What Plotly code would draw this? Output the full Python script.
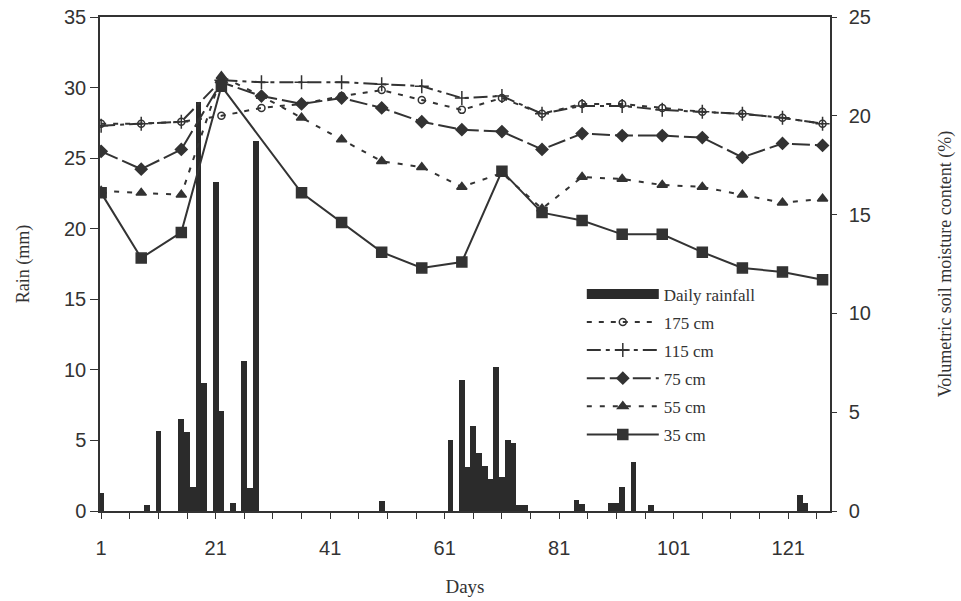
import plotly.graph_objects as go

# ---- data ----
rain_days = [1, 9, 11, 15, 16, 17, 18, 19, 21, 22, 24, 26, 27, 28, 50,
             62, 64, 65, 66, 67, 68, 69, 70, 71, 72, 73, 74, 75,
             84, 85, 90, 91, 92, 94, 97, 123, 124]
rain_mm = [1.3, 0.4, 5.7, 6.5, 5.6, 1.7, 29.0, 9.1, 23.3, 7.1, 0.6, 10.6, 1.6, 26.2, 0.7,
           5.0, 9.3, 3.1, 6.0, 4.1, 3.2, 2.3, 10.2, 2.4, 5.0, 4.8, 0.4, 0.4,
           0.8, 0.5, 0.6, 0.6, 1.7, 3.5, 0.4, 1.1, 0.6]

days = [1, 8, 15, 22, 29, 36, 43, 50, 57, 64, 71, 78, 85, 92, 99, 106, 113, 120, 127]
days_35 = [1, 8, 15, 22, 36, 43, 50, 57, 64, 71, 78, 85, 92, 99, 106, 113, 120, 127]

sm_175 = [19.6, 19.6, 19.7, 20.0, 20.4, 20.6, 21.0, 21.3, 20.8, 20.3, 20.9, 20.1, 20.6, 20.6, 20.4, 20.2, 20.1, 19.9, 19.6]
sm_115 = [19.5, 19.6, 19.7, 21.8, 21.7, 21.7, 21.7, 21.6, 21.5, 20.9, 21.0, 20.1, 20.5, 20.5, 20.3, 20.2, 20.1, 19.9, 19.6]
sm_75 = [18.2, 17.3, 18.3, 21.7, 21.0, 20.6, 20.9, 20.4, 19.7, 19.3, 19.2, 18.3, 19.1, 19.0, 19.0, 18.9, 17.9, 18.6, 18.5]
sm_55 = [16.2, 16.1, 16.0, 22.0, 21.0, 19.9, 18.8, 17.7, 17.4, 16.4, 17.1, 15.3, 16.9, 16.8, 16.5, 16.4, 16.0, 15.6, 15.8]
sm_35 = [16.1, 12.8, 14.1, 21.5, 16.1, 14.6, 13.1, 12.3, 12.6, 17.2, 15.1, 14.7, 14.0, 14.0, 13.1, 12.3, 12.1, 11.7]

INK = "#333333"
BAR = "#2b2b2b"
SERIF = "Liberation Serif"
SANS = "Liberation Sans"

fig = go.Figure()

fig.add_trace(go.Bar(
    x=rain_days, y=rain_mm, name="Daily rainfall", width=1,
    marker=dict(color=BAR, line=dict(width=0)),
    yaxis="y", showlegend=False,
))
# legend entry for rainfall drawn as a wide black block
fig.add_trace(go.Scatter(
    x=[None], y=[None], name="Daily rainfall", mode="lines", yaxis="y",
    line=dict(color=BAR, width=13), legendgroup="r",
))

series = [
    ("175 cm", days, sm_175, "5px,7px", "circle-open", 7),
    ("115 cm", days, sm_115, "14px,5px,4px,5px", "cross-thin-open", 10),
    ("75 cm", days, sm_75, "18px,5px", "diamond", 9),
    ("55 cm", days, sm_55, "5px,8px", "triangle-up", 9),
    ("35 cm", days_35, sm_35, "solid", "square", 10),
]
for name, xs, ys, dash, sym, size in series:
    fig.add_trace(go.Scatter(
        x=xs, y=ys, name=name, mode="lines+markers", yaxis="y2",
        line=dict(color=INK, width=2, dash=dash),
        marker=dict(symbol=sym, size=size, color=INK,
                    line=dict(color=INK, width=1.5)),
        legendgroup=name,
    ))

fig.update_layout(
    width=961, height=601,
    margin=dict(l=100, r=131, t=17, b=90, autoexpand=False),
    paper_bgcolor="white", plot_bgcolor="white",
    bargap=0,
    showlegend=True,
    legend=dict(x=0.66, y=0.475, xanchor="left", yanchor="top",
                bgcolor="rgba(0,0,0,0)", font=dict(family=SERIF, size=17, color=INK),
                tracegroupgap=3, itemwidth=72),
    xaxis=dict(range=[0.8, 128.3], tick0=1, dtick=20, showgrid=False, zeroline=False,
               automargin=False,
               showline=True, linecolor=INK, linewidth=1.5, mirror=True,
               ticks="outside", ticklen=6, tickcolor=INK,
               minor=dict(tick0=1, dtick=5, ticks="outside", ticklen=6, tickcolor=INK),
               tickfont=dict(family=SANS, size=20, color=INK),
               ticklabelstandoff=12,
               title=dict(text="Days", font=dict(family=SERIF, size=19, color=INK), standoff=22)),
    yaxis=dict(range=[0, 35], dtick=5, showgrid=False, zeroline=False,
               automargin=False,
               showline=True, linecolor=INK, linewidth=1.5,
               ticks="outside", ticklen=8, tickcolor=INK,
               tickfont=dict(family=SANS, size=20, color=INK),
               title=dict(text="Rain (mm)", font=dict(family=SERIF, size=18, color=INK), standoff=30)),
    yaxis2=dict(range=[0, 25], dtick=5, overlaying="y", side="right", showgrid=False,
                automargin=False,
                zeroline=False, showline=True, linecolor=INK, linewidth=1.5,
                ticks="outside", ticklen=5, tickcolor=INK,
                tickfont=dict(family=SANS, size=20, color=INK),
                ticklabelstandoff=8,
                title=dict(text="Volumetric soil moisture content (%)",
                           font=dict(family=SERIF, size=18, color=INK), standoff=68)),
)

fig.write_html("out.html")
